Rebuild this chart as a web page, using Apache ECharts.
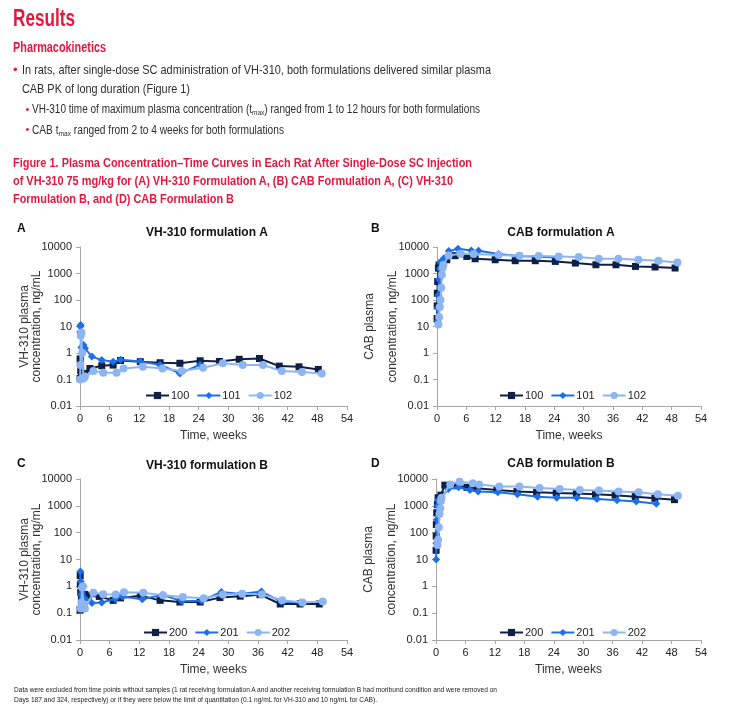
<!DOCTYPE html>
<html>
<head>
<meta charset="utf-8">
<script src="https://cdn.jsdelivr.net/npm/echarts@6/dist/echarts.min.js"></script>
<style>
  html, body { margin: 0; padding: 0; background: #fff; }
  #page { position: relative; width: 729px; height: 717px; overflow: hidden; }
  #chart { position: absolute; left: 0; top: 0; width: 729px; height: 717px; }
  .t { position: absolute; white-space: nowrap; line-height: 1; z-index: 2;
       font-family: "Liberation Sans Narrow", "Liberation Sans", Arial, sans-serif;
       transform-origin: 0 0; }
  .t span.fit { display: inline-block; transform-origin: 0 50%; }
  .red { color: #e6173d; font-weight: bold; }
  .body { color: #2e2e2e; }
  .bul { position: absolute; z-index: 2; color: #e6173d; line-height: 1;
         font-family: "Liberation Sans", Arial, sans-serif; }
  sub { font-size: 65%; vertical-align: -0.3em; line-height: 0; }
</style>
</head>
<body>
<div id="page">
  <div id="chart"></div>

  <div class="t red" style="left:13px; top:6.8px; font-size:23.5px;"><span class="fit" data-w="62">Results</span></div>
  <div class="t red" style="left:13px; top:39.8px; font-size:14px;"><span class="fit" data-w="93">Pharmacokinetics</span></div>

  <div class="bul" style="left:13px; top:63px; font-size:13px;">•</div>
  <div class="t body" style="left:22.3px; top:63px; font-size:13px;"><span class="fit" data-w="469">In rats, after single-dose SC administration of VH-310, both formulations delivered similar plasma</span></div>
  <div class="t body" style="left:22.3px; top:81.7px; font-size:13px;"><span class="fit" data-w="168">CAB PK of long duration (Figure 1)</span></div>

  <div class="bul" style="left:25.5px; top:103.5px; font-size:11px;">•</div>
  <div class="t body" style="left:31.7px; top:103.2px; font-size:12px;"><span class="fit" data-w="448">VH-310 time of maximum plasma concentration (t<sub>max</sub>) ranged from 1 to 12 hours for both formulations</span></div>
  <div class="bul" style="left:25.5px; top:124.2px; font-size:11px;">•</div>
  <div class="t body" style="left:31.7px; top:123.8px; font-size:12px;"><span class="fit" data-w="252">CAB t<sub>max</sub> ranged from 2 to 4 weeks for both formulations</span></div>

  <div class="t red" style="left:13px; top:156.7px; font-size:12.5px;"><span class="fit" data-w="459">Figure 1. Plasma Concentration–Time Curves in Each Rat After Single-Dose SC Injection</span></div>
  <div class="t red" style="left:13px; top:175.1px; font-size:12.5px;"><span class="fit" data-w="440">of VH-310 75 mg/kg for (A) VH-310 Formulation A, (B) CAB Formulation A, (C) VH-310</span></div>
  <div class="t red" style="left:13px; top:193.4px; font-size:12.5px;"><span class="fit" data-w="221">Formulation B, and (D) CAB Formulation B</span></div>

  <div class="t" style="left:14px; top:685.9px; font-size:8px; color:#222;"><span class="fit" data-w="483">Data were excluded from time points without samples (1 rat receiving formulation A and another receiving formulation B had moribund condition and were removed on</span></div>
  <div class="t" style="left:14px; top:696.2px; font-size:8px; color:#222;"><span class="fit" data-w="363">Days 187 and 324, respectively) or if they were below the limit of quantitation (0.1 ng/mL for VH-310 and 10 ng/mL for CAB).</span></div>
</div>

<script>
// ---------------- DATA (weeks, concentration ng/mL) ----------------
// Panel A: VH-310 formulation A
var tA100 = [0.02, 0.04, 0.07, 0.14, 0.29, 0.43, 0.71, 1.0, 2.0, 4.4, 6.7, 8.2, 12.2, 16.2, 20.2, 24.3, 28.2, 32.2, 36.3, 40.3, 44.3, 48.2];
var cA100 = [0.11, 0.6, 0.55, 0.22, 0.15, 0.12, 0.13, 0.17, 0.26, 0.33, 0.35, 0.52, 0.47, 0.43, 0.41, 0.51, 0.48, 0.58, 0.62, 0.32, 0.30, 0.24];
var tA101 = [0.04, 0.07, 0.14, 0.29, 0.43, 0.71, 1.0, 2.4, 4.4, 6.7, 8.2, 12.2, 16.2, 20.2, 24.3];
var cA101 = [6.2, 10, 11.4, 1.6, 1.7, 2.0, 1.5, 0.73, 0.54, 0.47, 0.56, 0.48, 0.36, 0.17, 0.36];
var tA102 = [0.04, 0.07, 0.14, 0.29, 0.43, 0.71, 1.0, 2.7, 4.7, 7.4, 8.8, 12.7, 16.7, 20.6, 24.9, 28.9, 32.9, 37.0, 40.8, 44.9, 48.9];
var cA102 = [0.1, 0.35, 4.5, 6.0, 1.0, 0.11, 0.13, 0.21, 0.18, 0.18, 0.26, 0.30, 0.26, 0.21, 0.28, 0.41, 0.35, 0.35, 0.21, 0.19, 0.17];

// Panel B: CAB formulation A
var tB100 = [0.02, 0.04, 0.07, 0.14, 0.29, 0.43, 1.0, 2.0, 3.7, 6.1, 7.8, 11.9, 16.0, 20.1, 24.2, 28.3, 32.5, 36.6, 40.6, 44.6, 48.7];
var cB100 = [20, 60, 180, 500, 1600, 2100, 2500, 3300, 4700, 4400, 3600, 3300, 3040, 3040, 2860, 2480, 2140, 2140, 1850, 1760, 1610];
var tB101 = [0.07, 0.14, 0.29, 0.43, 0.57, 0.71, 1.0, 1.4, 2.4, 4.3, 7.0, 8.5, 12.6, 16.6, 20.6, 24.6];
var cB101 = [15, 50, 150, 600, 1500, 2600, 2900, 3800, 7000, 8600, 7400, 7200, 5400, 4600, 4300, 4000];
var tB102 = [0.29, 0.43, 0.57, 0.71, 0.86, 1.0, 1.14, 1.3, 2.4, 4.8, 7.5, 12.6, 16.9, 20.8, 24.9, 29.0, 33.1, 37.1, 41.2, 45.3, 49.2];
var cB102 = [12, 23, 55, 100, 290, 900, 1600, 2100, 4800, 5600, 5500, 5000, 4700, 4600, 4400, 4200, 3600, 3600, 3300, 3000, 2600];

// Panel C: VH-310 formulation B
var tC200 = [0.02, 0.04, 0.07, 0.14, 0.29, 0.43, 0.71, 1.0, 1.7, 3.9, 6.7, 8.2, 12.2, 16.2, 20.2, 24.3, 28.3, 32.4, 36.4, 40.5, 44.5, 48.4];
var cC200 = [0.13, 2.5, 1.2, 0.6, 0.4, 0.3, 0.45, 0.5, 0.44, 0.42, 0.3, 0.37, 0.45, 0.30, 0.26, 0.26, 0.38, 0.43, 0.49, 0.22, 0.22, 0.22];
var tC201 = [0.04, 0.07, 0.14, 0.29, 0.43, 0.71, 1.0, 2.4, 4.4, 7.1, 8.6, 12.6, 16.6, 20.6, 24.6, 28.6, 32.5, 36.7, 40.7, 44.6];
var cC201 = [0.17, 3.6, 1.5, 0.5, 0.3, 1.0, 0.35, 0.24, 0.25, 0.34, 0.42, 0.33, 0.48, 0.28, 0.29, 0.62, 0.52, 0.64, 0.27, 0.25];
var tC202 = [0.14, 0.29, 0.43, 0.57, 0.71, 1.0, 2.7, 4.7, 7.2, 8.9, 12.8, 16.8, 20.8, 25.0, 28.9, 32.8, 36.8, 40.9, 45.0, 49.1];
var cC202 = [0.15, 0.25, 0.9, 1.0, 0.2, 0.15, 0.58, 0.51, 0.5, 0.6, 0.58, 0.47, 0.4, 0.36, 0.5, 0.53, 0.5, 0.3, 0.25, 0.27];

// Panel D: CAB formulation B
var tD200 = [0.02, 0.04, 0.07, 0.14, 0.29, 0.43, 1.0, 1.8, 4.2, 6.3, 8.3, 12.4, 16.5, 20.5, 24.5, 28.6, 32.5, 36.5, 40.6, 44.6, 48.6];
var cD200 = [22, 75, 200, 550, 1100, 2000, 2500, 5900, 5600, 4900, 4500, 3900, 3400, 3200, 3000, 2900, 2700, 2500, 2200, 1900, 1700];
var tD201 = [0.04, 0.07, 0.14, 0.29, 0.43, 1.0, 2.5, 4.6, 6.9, 8.6, 12.6, 16.6, 20.7, 24.6, 28.7, 32.8, 36.9, 40.8, 44.9];
var cD201 = [10, 40, 300, 1000, 1600, 2000, 4200, 4900, 3900, 3400, 3200, 2700, 2200, 2000, 2000, 1800, 1600, 1450, 1200];
var tD202 = [0.29, 0.43, 0.57, 0.71, 0.86, 1.0, 1.14, 2.9, 4.8, 7.5, 8.8, 12.9, 17.0, 21.1, 25.2, 29.3, 33.2, 37.2, 41.3, 45.2, 49.3];
var cD202 = [35, 55, 160, 500, 800, 1500, 2000, 6300, 7900, 7000, 6300, 5300, 5300, 4600, 4200, 3900, 3700, 3400, 3200, 2700, 2400];

var panelLetters = ['A', 'B', 'C', 'D'];
var panelTitles = ['VH-310 formulation A', 'CAB formulation A', 'VH-310 formulation B', 'CAB formulation B'];
var yNames = ['VH-310 plasma\nconcentration, ng/mL', 'CAB plasma\nconcentration, ng/mL', 'VH-310 plasma\nconcentration, ng/mL', 'CAB plasma\nconcentration, ng/mL'];
var xName = 'Time, weeks';
var namesAB = ['100', '101', '102'];
var namesCD = ['200', '201', '202'];
// ------------------------------------------------------------------

// fit header text widths
document.querySelectorAll('span.fit').forEach(function (s) {
  var w = s.getBoundingClientRect().width;
  var target = parseFloat(s.getAttribute('data-w'));
  if (w > 0) s.style.transform = 'scaleX(' + (target / w) + ')';
});

function zip(t, c) { return t.map(function (x, i) { return [x, c[i]]; }); }

var colors = ['#0f1f45', '#1c6fe8', '#8db5f2'];
var symbols = ['rect', 'diamond', 'circle'];
var symSizes = [7, 8, 8];
var FONT = '"Liberation Sans", Arial, sans-serif';
var NARROW = '"Liberation Sans Narrow", "Liberation Sans", Arial, sans-serif';
var axisGray = '#a6a6a6';

var grids = [
  { left: 80, top: 247, width: 267, height: 159 },
  { left: 437, top: 247, width: 264, height: 159 },
  { left: 80, top: 479, width: 267, height: 161 },
  { left: 436, top: 479, width: 265, height: 161 }
];

var letterPos = [[17, 229], [371, 229], [17, 464], [371, 464]];
var titlePos = [[207, 233], [561, 233], [207, 466], [561, 464]];
var legendPos = [[140, 385], [494, 385], [138, 622], [494, 622]];
var yNameGap = [37, 33, 37, 33];
var yNameLH = [12, 23, 12, 23];

function logLabel(v) {
  var e = Math.round(Math.log10(v));
  return e < 0 ? Math.pow(10, e).toFixed(-e) : String(Math.round(Math.pow(10, e)));
}

var xAxes = [], yAxes = [], legends = [], graphics = [];
for (var i = 0; i < 4; i++) {
  xAxes.push({
    gridIndex: i, type: 'value', min: 0, max: 54, interval: 6,
    axisLine: { show: true, lineStyle: { color: axisGray, width: 1 } },
    axisTick: { show: true, length: 4, lineStyle: { color: axisGray } },
    axisLabel: { fontSize: 11, color: '#222', margin: 7, fontFamily: FONT },
    splitLine: { show: false },
    name: xName, nameLocation: 'middle', nameGap: 24, nameMoveOverlap: false,
    nameTextStyle: { fontSize: 12, color: '#333', fontFamily: FONT }
  });
  yAxes.push({
    gridIndex: i, type: 'log', logBase: 10, min: 0.01, max: 10000,
    axisLine: { show: true, lineStyle: { color: axisGray, width: 1 } },
    axisTick: { show: true, length: 4, lineStyle: { color: axisGray } },
    axisLabel: { fontSize: 11, color: '#222', margin: 8, fontFamily: FONT, formatter: logLabel },
    splitLine: { show: false },
    minorTick: { show: false },
    name: yNames[i], nameLocation: 'middle', nameGap: yNameGap[i], nameRotate: 90,
    nameMoveOverlap: false,
    nameTextStyle: { fontSize: 12, color: '#333', lineHeight: yNameLH[i], fontFamily: FONT }
  });
  legends.push({
    data: i < 2 ? namesAB : namesCD,
    left: legendPos[i][0], top: legendPos[i][1],
    itemWidth: 23, itemHeight: 9, itemGap: 7,
    textStyle: { fontSize: 11, color: '#222', fontFamily: NARROW, padding: [0, 0, 0, -3] },
    selectedMode: false
  });
  graphics.push({
    type: 'text', x: letterPos[i][0], y: letterPos[i][1],
    style: { text: panelLetters[i], fontSize: 12, fontWeight: 'bold', fill: '#111', fontFamily: FONT, align: 'left', verticalAlign: 'middle' }
  });
  graphics.push({
    type: 'text', x: titlePos[i][0], y: titlePos[i][1],
    style: { text: panelTitles[i], fontSize: 12, fontWeight: 'bold', fill: '#111', fontFamily: FONT, align: 'center', verticalAlign: 'middle' }
  });
}

var seriesSpec = [
  [0, namesAB[0], tA100, cA100, 0], [0, namesAB[1], tA101, cA101, 1], [0, namesAB[2], tA102, cA102, 2],
  [1, namesAB[0], tB100, cB100, 0], [1, namesAB[1], tB101, cB101, 1], [1, namesAB[2], tB102, cB102, 2],
  [2, namesCD[0], tC200, cC200, 0], [2, namesCD[1], tC201, cC201, 1], [2, namesCD[2], tC202, cC202, 2],
  [3, namesCD[0], tD200, cD200, 0], [3, namesCD[1], tD201, cD201, 1], [3, namesCD[2], tD202, cD202, 2]
];
var series = seriesSpec.map(function (s) {
  var k = s[4];
  return {
    type: 'line', name: s[1], xAxisIndex: s[0], yAxisIndex: s[0],
    data: zip(s[2], s[3]),
    symbol: symbols[k], symbolSize: symSizes[k], showAllSymbol: true,
    lineStyle: { color: colors[k], width: 2 },
    itemStyle: { color: colors[k] },
    color: colors[k],
    animation: false, z: 2 + k
  };
});

var chart = echarts.init(document.getElementById('chart'), null, { renderer: 'canvas' });
chart.setOption({
  animation: false,
  textStyle: { fontFamily: FONT },
  grid: grids,
  xAxis: xAxes,
  yAxis: yAxes,
  legend: legends,
  graphic: graphics,
  series: series
});
</script>
</body>
</html>
